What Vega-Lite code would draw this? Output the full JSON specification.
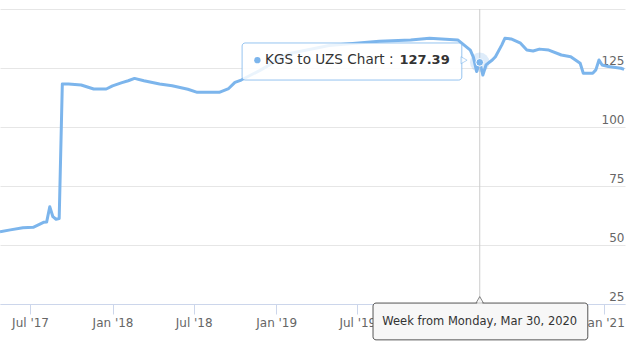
{
  "$schema": "https://vega.github.io/schema/vega-lite/v6.json",
  "width": 625,
  "height": 295,
  "autosize": "none",
  "padding": {"left": 0, "top": 9, "right": 15, "bottom": 56},
  "background": "white",
  "config": {"view": {"stroke": null}, "font": "DejaVu Sans"},
  "datasets": {
    "series": [
      {"date": "2017-04-25", "rate": 55.6},
      {"date": "2017-05-18", "rate": 56.4},
      {"date": "2017-06-15", "rate": 57.3},
      {"date": "2017-07-08", "rate": 57.5},
      {"date": "2017-07-31", "rate": 59.6},
      {"date": "2017-08-07", "rate": 59.7},
      {"date": "2017-08-14", "rate": 66.2},
      {"date": "2017-08-21", "rate": 62.0},
      {"date": "2017-08-28", "rate": 60.9},
      {"date": "2017-09-04", "rate": 61.2},
      {"date": "2017-09-11", "rate": 118.2},
      {"date": "2017-09-25", "rate": 118.2},
      {"date": "2017-10-23", "rate": 117.8},
      {"date": "2017-11-20", "rate": 116.1},
      {"date": "2017-12-18", "rate": 116.1},
      {"date": "2018-01-01", "rate": 117.4},
      {"date": "2018-01-22", "rate": 118.8},
      {"date": "2018-02-05", "rate": 119.6},
      {"date": "2018-02-19", "rate": 120.6},
      {"date": "2018-03-12", "rate": 119.6},
      {"date": "2018-04-16", "rate": 118.2},
      {"date": "2018-05-14", "rate": 117.5},
      {"date": "2018-06-18", "rate": 116.0},
      {"date": "2018-07-09", "rate": 114.7},
      {"date": "2018-07-30", "rate": 114.7},
      {"date": "2018-08-27", "rate": 114.7},
      {"date": "2018-09-17", "rate": 116.3},
      {"date": "2018-10-01", "rate": 118.9},
      {"date": "2018-10-15", "rate": 119.9},
      {"date": "2018-11-26", "rate": 124.0},
      {"date": "2019-01-28", "rate": 131.0},
      {"date": "2019-04-29", "rate": 134.5},
      {"date": "2019-08-19", "rate": 136.3},
      {"date": "2019-10-28", "rate": 136.9},
      {"date": "2019-12-09", "rate": 137.6},
      {"date": "2020-02-10", "rate": 136.9},
      {"date": "2020-03-09", "rate": 132.6},
      {"date": "2020-03-16", "rate": 129.5},
      {"date": "2020-03-23", "rate": 123.5},
      {"date": "2020-03-30", "rate": 127.39},
      {"date": "2020-04-06", "rate": 122.0},
      {"date": "2020-04-13", "rate": 126.3},
      {"date": "2020-04-27", "rate": 128.4},
      {"date": "2020-05-04", "rate": 129.8},
      {"date": "2020-05-18", "rate": 134.7},
      {"date": "2020-05-25", "rate": 137.6},
      {"date": "2020-06-08", "rate": 137.3},
      {"date": "2020-06-29", "rate": 135.5},
      {"date": "2020-07-13", "rate": 132.6},
      {"date": "2020-07-27", "rate": 132.2},
      {"date": "2020-08-10", "rate": 133.0},
      {"date": "2020-08-31", "rate": 132.6},
      {"date": "2020-09-28", "rate": 130.5},
      {"date": "2020-10-19", "rate": 129.8},
      {"date": "2020-11-09", "rate": 127.0},
      {"date": "2020-11-16", "rate": 122.8},
      {"date": "2020-12-07", "rate": 122.8},
      {"date": "2020-12-14", "rate": 124.2},
      {"date": "2020-12-21", "rate": 128.4},
      {"date": "2020-12-28", "rate": 126.3},
      {"date": "2021-01-11", "rate": 125.6},
      {"date": "2021-02-08", "rate": 124.9},
      {"date": "2021-02-15", "rate": 124.4}
    ],
    "hover": [
      {"date": "2020-03-30", "rate": 127.39, "series": "KGS to UZS Chart : ", "week": "Week from Monday, Mar 30, 2020"}
    ]
  },
  "layer": [
    {
      "data": {"name": "series"},
      "mark": {"type": "line", "color": "#7cb5ec", "strokeWidth": 3, "strokeJoin": "round"},
      "encoding": {
        "x": {
          "field": "date", "type": "temporal",
          "scale": {"type": "utc", "domain": [{"year": 2017, "month": 4, "date": 25, "utc": true}, {"year": 2021, "month": 2, "date": 17, "utc": true}]},
          "axis": {
            "title": null, "orient": "bottom", "grid": false, "zindex": 0,
            "values": [
              {"year": 2017, "month": 7, "date": 1, "utc": true},
              {"year": 2018, "month": 1, "date": 1, "utc": true},
              {"year": 2018, "month": 7, "date": 1, "utc": true},
              {"year": 2019, "month": 1, "date": 1, "utc": true},
              {"year": 2019, "month": 7, "date": 1, "utc": true},
              {"year": 2020, "month": 1, "date": 1, "utc": true},
              {"year": 2020, "month": 7, "date": 1, "utc": true},
              {"year": 2021, "month": 1, "date": 1, "utc": true}
            ],
            "format": "%b '%y",
            "domainColor": "#ccd6eb", "tickColor": "#ccd6eb", "tickSize": 10,
            "labelColor": "#666666", "labelFontSize": 12, "labelPadding": 3,
            "labelFlush": false, "labelOverlap": false
          }
        },
        "y": {
          "field": "rate", "type": "quantitative",
          "scale": {"domain": [25, 150], "nice": false, "zero": false},
          "axis": {
            "title": null, "orient": "right", "zindex": 0,
            "values": [25, 50, 75, 100, 125, 150],
            "labelExpr": "datum.value == 150 ? '' : datum.label",
            "ticks": false, "tickSize": 0, "domain": false,
            "gridColor": "#e6e6e6",
            "labelAlign": "right", "labelBaseline": "alphabetic", "labelOffset": -4, "labelPadding": -1,
            "labelColor": "#666666", "labelFontSize": 12
          }
        }
      }
    },
    {
      "data": {"name": "hover"},
      "mark": {"type": "rule", "color": "#cccccc", "strokeWidth": 1},
      "encoding": {
        "x": {"field": "date", "type": "temporal"},
        "y": {"datum": 150},
        "y2": {"datum": 25}
      }
    },
    {
      "data": {"name": "hover"},
      "mark": {"type": "circle", "size": 380, "color": "#7cb5ec", "opacity": 0.25},
      "encoding": {
        "x": {"field": "date", "type": "temporal"},
        "y": {"field": "rate", "type": "quantitative"}
      }
    },
    {
      "data": {"name": "hover"},
      "mark": {"type": "circle", "size": 60, "color": "#7cb5ec", "opacity": 1, "stroke": "white", "strokeWidth": 1},
      "encoding": {
        "x": {"field": "date", "type": "temporal"},
        "y": {"field": "rate", "type": "quantitative"}
      }
    },
    {
      "data": {"values": [{}]},
      "mark": {"type": "rect", "fill": "white", "fillOpacity": 0.85, "stroke": "#7cb5ec", "strokeOpacity": 0.8, "strokeWidth": 1, "cornerRadius": 3},
      "encoding": {
        "x": {"datum": {"year": 2018, "month": 10, "date": 17, "utc": true}, "type": "temporal"},
        "x2": {"datum": {"year": 2020, "month": 2, "date": 19, "utc": true}},
        "y": {"datum": 135.6, "type": "quantitative"},
        "y2": {"datum": 119.9}
      }
    },
    {
      "data": {"values": [{}]},
      "mark": {"type": "point", "shape": "triangle-right", "size": 50, "filled": true, "fill": "white", "stroke": "#7cb5ec", "strokeOpacity": 0.8, "strokeWidth": 1},
      "encoding": {
        "x": {"datum": {"year": 2020, "month": 2, "date": 24, "utc": true}, "type": "temporal"},
        "y": {"datum": 128.3, "type": "quantitative"}
      }
    },
    {
      "data": {"values": [{}]},
      "mark": {"type": "circle", "size": 40, "color": "#7cb5ec", "opacity": 1},
      "encoding": {
        "x": {"datum": {"year": 2018, "month": 11, "date": 20, "utc": true}, "type": "temporal"},
        "y": {"datum": 128.3, "type": "quantitative"}
      }
    },
    {
      "data": {"name": "hover"},
      "mark": {"type": "text", "align": "left", "baseline": "middle", "fontSize": 13.6, "color": "#333333"},
      "encoding": {
        "x": {"datum": {"year": 2018, "month": 12, "date": 7, "utc": true}, "type": "temporal"},
        "y": {"datum": 128.3, "type": "quantitative"},
        "text": {"field": "series"}
      }
    },
    {
      "data": {"name": "hover"},
      "mark": {"type": "text", "align": "right", "baseline": "middle", "fontSize": 13, "fontWeight": "bold", "color": "#333333"},
      "encoding": {
        "x": {"datum": {"year": 2020, "month": 1, "date": 23, "utc": true}, "type": "temporal"},
        "y": {"datum": 128.3, "type": "quantitative"},
        "text": {"field": "rate", "type": "quantitative", "format": ".2f"}
      }
    },
    {
      "data": {"values": [{}]},
      "mark": {"type": "point", "shape": "triangle-up", "size": 70, "filled": true, "fill": "#f7f7f7", "stroke": "#555555", "strokeWidth": 1},
      "encoding": {
        "x": {"datum": {"year": 2020, "month": 3, "date": 30, "utc": true}, "type": "temporal"},
        "y": {"datum": 26.6, "type": "quantitative"}
      }
    },
    {
      "data": {"values": [{}]},
      "mark": {"type": "rect", "fill": "#f7f7f7", "stroke": "#555555", "strokeWidth": 1, "cornerRadius": 3},
      "encoding": {
        "x": {"datum": {"year": 2019, "month": 8, "date": 5, "utc": true}, "type": "temporal"},
        "x2": {"datum": {"year": 2020, "month": 11, "date": 26, "utc": true}},
        "y": {"datum": 25.4, "type": "quantitative"},
        "y2": {"datum": 9.8}
      }
    },
    {
      "data": {"values": [{}]},
      "mark": {"type": "point", "shape": "triangle-up", "size": 40, "filled": true, "fill": "#f7f7f7", "strokeWidth": 0},
      "encoding": {
        "x": {"datum": {"year": 2020, "month": 3, "date": 30, "utc": true}, "type": "temporal"},
        "y": {"datum": 26.1, "type": "quantitative"}
      }
    },
    {
      "data": {"name": "hover"},
      "mark": {"type": "text", "align": "center", "baseline": "middle", "fontSize": 11.5, "color": "#333333"},
      "encoding": {
        "x": {"field": "date", "type": "temporal"},
        "y": {"datum": 17.4, "type": "quantitative"},
        "text": {"field": "week"}
      }
    }
  ]
}
